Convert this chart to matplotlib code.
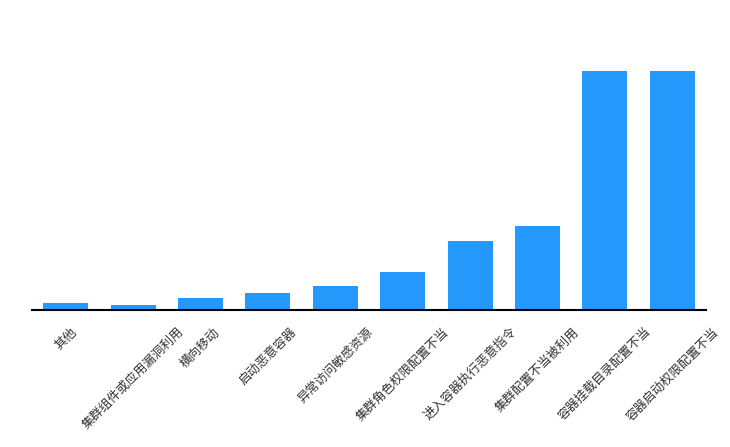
import matplotlib
matplotlib.use("Agg")
import matplotlib.pyplot as plt

plt.rcParams['font.family'] = ['Noto Sans CJK SC', 'DejaVu Sans']

# 数据
categories = ['其他', '集群组件或应用漏洞利用', '横向移动', '启动恶意容器', '异常访问敏感资源',
              '集群角色权限配置不当', '进入容器执行恶意指令', '集群配置不当被利用',
              '容器挂载目录配置不当', '容器启动权限配置不当']
values = [3, 2, 5, 7, 10, 16, 29, 35, 100, 100]

W, H = 730, 447
fig = plt.figure(figsize=(W / 100, H / 100), dpi=100)
ax = fig.add_axes([32 / W, (H - 310) / H, 674 / W, 239 / H])

x = range(len(categories))
ax.bar(x, values, width=0.67, color='#2499fb', zorder=2)

ax.set_xlim(-0.5, len(categories) - 0.5)
ax.set_ylim(0, 100)

for s in ['top', 'right', 'left']:
    ax.spines[s].set_visible(False)
ax.spines['bottom'].set_linewidth(1.5)
ax.spines['bottom'].set_color('black')
ax.set_yticks([])

# 旋转标签: 包围盒水平居中, 顶部对齐
ax.set_xticks(list(x))
ax.set_xticklabels(categories, rotation=45, ha='center', va='top',
                   fontsize=9, color='#333333')
ax.tick_params(axis='x', length=0, pad=11)

fig.savefig('out.png', dpi=100)
